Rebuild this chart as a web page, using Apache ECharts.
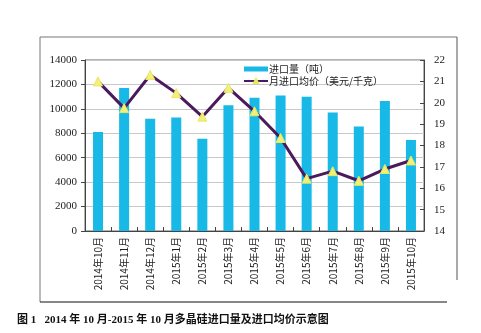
<!DOCTYPE html>
<html><head><meta charset="utf-8">
<script src="https://cdn.jsdelivr.net/npm/echarts@6/dist/echarts.min.js"></script>
<style>html,body{margin:0;padding:0;background:#fff}#c{width:481px;height:333px}</style>
</head><body><div id="c"></div>
<script>
var categories = ['2014年10月','2014年11月','2014年12月','2015年1月','2015年2月','2015年3月','2015年4月','2015年5月','2015年6月','2015年7月','2015年8月','2015年9月','2015年10月'];
var volume = [8100, 11700, 9200, 9300, 7550, 10300, 10900, 11100, 11000, 9700, 8550, 10650, 7450];
var price = [21.0, 19.75, 21.3, 20.45, 19.35, 20.7, 19.6, 18.35, 16.45, 16.8, 16.35, 16.9, 17.3];
var leftTicks = [0, 14000, 2000];
var rightTicks = [14, 22, 1];
var seriesNames = ['进口量（吨）', '月进口均价（美元/千克）'];
var caption = '图 1   2014 年 10 月-2015 年 10 月多晶硅进口量及进口均价示意图';

var chart = echarts.init(document.getElementById('c'));
var serif = '"Liberation Serif", "Noto Sans CJK SC", serif';
var cjk = '"Noto Sans CJK SC", sans-serif';
chart.setOption({
  animation: false,
  backgroundColor: '#fff',
  title: {
    text: caption, left: 12, top: 310,
    textStyle: {fontFamily: '"Liberation Serif", "Noto Sans CJK SC", serif', fontSize: 11, fontWeight: 'bold', color: '#111'}
  },
  legend: {
    orient: 'vertical', left: 238, top: 59, itemGap: 2, itemWidth: 24, itemHeight: 5,
    textStyle: {fontFamily: cjk, fontSize: 10, color: '#222', padding: [0,0,0,-4]},
    data: [
      {name: seriesNames[0], icon: 'rect'},
      {name: seriesNames[1]}
    ]
  },
  grid: {left: 85, right: 57, top: 60, bottom: 102, show: true, borderColor: '#666', borderWidth: 1},
  xAxis: {
    type: 'category', data: categories,
    axisLine: {lineStyle: {color: '#444'}},
    axisTick: {show: true, inside: true, length: 4, lineStyle: {color: '#444'}},
    axisLabel: {rotate: 90, interval: 0, fontFamily: cjk, fontSize: 10, color: '#222', margin: 6}
  },
  yAxis: [
    {type: 'value', min: leftTicks[0], max: leftTicks[1], interval: leftTicks[2],
     axisLine: {show: true, lineStyle: {color: '#444'}},
     axisTick: {show: true, length: 4, lineStyle: {color: '#444'}},
     splitLine: {lineStyle: {color: '#c8c8c8'}},
     axisLabel: {fontFamily: serif, fontSize: 11, color: '#222', margin: 8,
       formatter: function (v) { return String(v); }}},
    {type: 'value', min: rightTicks[0], max: rightTicks[1], interval: rightTicks[2], position: 'right',
     axisLine: {show: true, lineStyle: {color: '#444'}},
     axisTick: {show: true, inside: true, length: 4, lineStyle: {color: '#444'}},
     splitLine: {show: false},
     axisLabel: {fontFamily: serif, fontSize: 11, color: '#222', margin: 10,
       formatter: function (v) { return String(v); }}}
  ],
  series: [
    {name: seriesNames[0], type: 'bar', data: volume, barWidth: 10, yAxisIndex: 0,
     itemStyle: {color: '#18b9e6'}},
    {name: seriesNames[1], type: 'line', data: price, yAxisIndex: 1,
     symbol: 'triangle', symbolSize: 9,
     lineStyle: {color: '#4a1a5c', width: 3},
     itemStyle: {color: '#f2f07a', borderColor: '#e8e860', borderWidth: 1}}
  ],
  graphic: [
    {type: 'line', shape: {x1: 40, y1: 37, x2: 457, y2: 37}, style: {stroke: '#777', lineWidth: 1}},
    {type: 'line', shape: {x1: 40, y1: 37, x2: 40, y2: 302}, style: {stroke: '#777', lineWidth: 1}},
    {type: 'line', shape: {x1: 457, y1: 37, x2: 457, y2: 280}, style: {stroke: '#555', lineWidth: 1}},
    {type: 'line', shape: {x1: 40, y1: 302, x2: 447, y2: 302}, style: {stroke: '#111', lineWidth: 1}}
  ]
});
</script></body></html>
